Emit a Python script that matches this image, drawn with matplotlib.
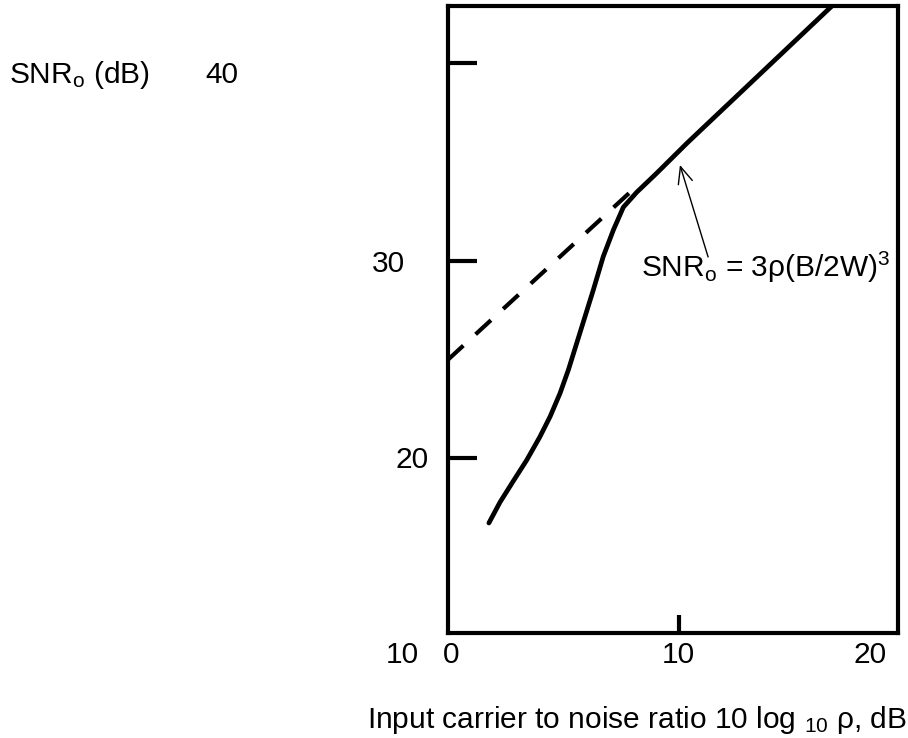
import matplotlib
matplotlib.use("Agg")
import matplotlib.pyplot as plt

plt.rcParams["font.family"] = ["Liberation Sans", "DejaVu Sans"]
plt.rcParams["mathtext.fontset"] = "custom"
plt.rcParams["mathtext.rm"] = "Liberation Sans"
plt.rcParams["mathtext.it"] = "Liberation Sans:italic"

# values
fm_x = [1.77, 2.25, 2.83, 3.41, 3.98, 4.42, 4.85, 5.21, 5.57, 5.93, 6.29, 6.72,
        7.16, 7.59, 8.17, 9.03, 10.35, 16.62]
fm_y = [16.73, 17.78, 18.86, 19.92, 21.10, 22.12, 23.30, 24.48, 25.83, 27.18, 28.53, 30.22,
        31.57, 32.72, 33.48, 34.44, 35.97, 42.91]
asym_x = [0.0, 7.9]
asym_y = [25.0, 33.5]
ytick_vals = [20, 30, 40]
xtick_vals = [10]
xlabels = ["0", "10", "20"]
ylabels = ["40", "30", "20", "10"]

FS = 21.5

fig = plt.figure(figsize=(9.08, 7.38), dpi=100)
ax = fig.add_axes([448 / 908, 1 - 633 / 738, 450 / 908, 627 / 738])

ax.plot(fm_x, fm_y, color="black", lw=3.4, solid_capstyle="round",
        solid_joinstyle="round")
ax.plot(asym_x, asym_y, color="black", lw=3, dashes=(5, 4))

ax.set_xlim(0, 19.48)
ax.set_ylim(11.16, 42.91)

for s in ax.spines.values():
    s.set_linewidth(3)

ax.set_yticks(ytick_vals)
ax.set_xticks(xtick_vals)
ax.tick_params(axis="y", direction="in", length=21, width=3, labelleft=False)
ax.tick_params(axis="x", direction="in", length=13, width=3, labelbottom=False)

# tick labels placed as in the picture (pixel positions of the original)
px = lambda x, y: (x / 908, 1 - y / 738)
for lab, (x, y) in zip(ylabels, [(222, 75), (388, 264), (412, 460), (402, 655)]):
    fig.text(*px(x, y), lab, fontsize=FS, ha="center", va="center")
for lab, (x, y) in zip(xlabels, [(451, 655), (678, 655), (870, 655)]):
    fig.text(*px(x, y), lab, fontsize=FS, ha="center", va="center")

fig.text(*px(79, 75), r"SNR$_\mathrm{o}$ (dB)", fontsize=FS, ha="center", va="center")
fig.text(*px(637, 720), r"Input carrier to noise ratio 10 log $_{10}$ ρ, dB",
         fontsize=FS, ha="center", va="center")

ax.text(8.35, 29.19, r"SNR$_\mathrm{o}$ = 3ρ(B/2W)$^3$", fontsize=FS,
        ha="left", va="baseline")
ax.annotate("", xy=(10.04, 34.86), xytext=(11.26, 30.2),
            arrowprops=dict(arrowstyle="->,head_length=0.8,head_width=0.35",
                            mutation_scale=15, lw=1, color="black",
                            shrinkA=0, shrinkB=0))

fig.savefig("out.png", dpi=100)
